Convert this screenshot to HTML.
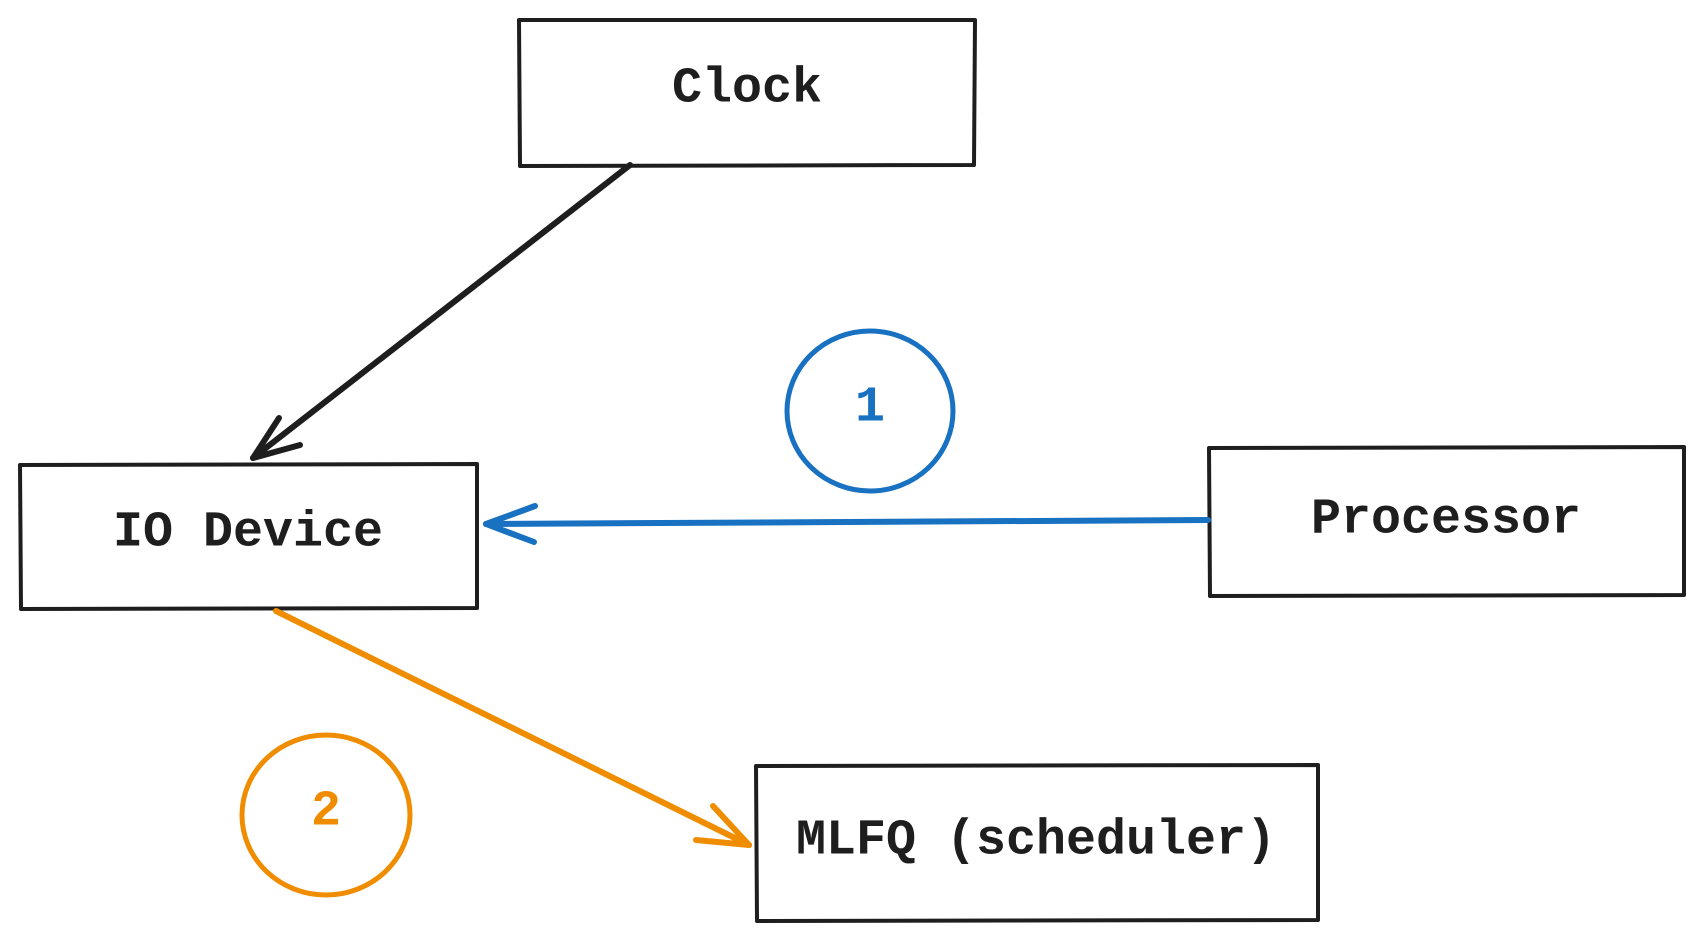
<!DOCTYPE html>
<html><head><meta charset="utf-8"><style>
html,body{margin:0;padding:0;background:#fff;}
svg{display:block}
text{font-family:"Liberation Mono",monospace;font-size:50px;font-weight:bold;fill:#1e1e1e;text-anchor:middle;dominant-baseline:central}
</style></head><body>
<svg width="1703" height="941" viewBox="0 0 1703 941">
<g fill="none" stroke-linecap="round" stroke-linejoin="round">
<g>
<path d="M519 20 L975 20 L974 165 L520 166 Z" stroke="#1e1e1e" stroke-width="4"/>
<text x="747" y="89" stroke="none">Clock</text></g>
<g>
<path d="M20 465 L477 464 L477 608 L21 609 Z" stroke="#1e1e1e" stroke-width="4"/>
<text x="248" y="533" stroke="none">IO Device</text></g>
<g>
<path d="M1209 448 L1684 447 L1684 595 L1210 596 Z" stroke="#1e1e1e" stroke-width="4"/>
<text x="1446" y="520" stroke="none">Processor</text></g>
<g>
<path d="M756 766 L1318 765 L1318 920 L757 921 Z" stroke="#1e1e1e" stroke-width="4"/>
<text x="1036" y="841" stroke="none">MLFQ (scheduler)</text></g>
<g stroke="#1e1e1e" stroke-width="6">
<path d="M630 165 L253 458"/><path d="M253 458 L279 418"/><path d="M253 458 L300 445"/></g>
<g stroke="#1971c2" stroke-width="6">
<path d="M1208 520 L486 524"/><path d="M486 524 L535 506"/><path d="M486 524 L534 542"/></g>
<g stroke="#f08c00" stroke-width="6">
<path d="M276 611 L749 845"/><path d="M749 845 L713 806"/><path d="M749 845 L696 840"/></g>
<g>
<ellipse cx="870" cy="411" rx="83" ry="80" stroke="#1971c2" stroke-width="5"/>
<text x="870" y="408" stroke="none" style="fill:#1971c2">1</text></g>
<g>
<ellipse cx="326" cy="815" rx="84" ry="80" stroke="#f08c00" stroke-width="5"/>
<text x="326" y="812" stroke="none" style="fill:#f08c00">2</text></g>
</g></svg>
</body></html>
